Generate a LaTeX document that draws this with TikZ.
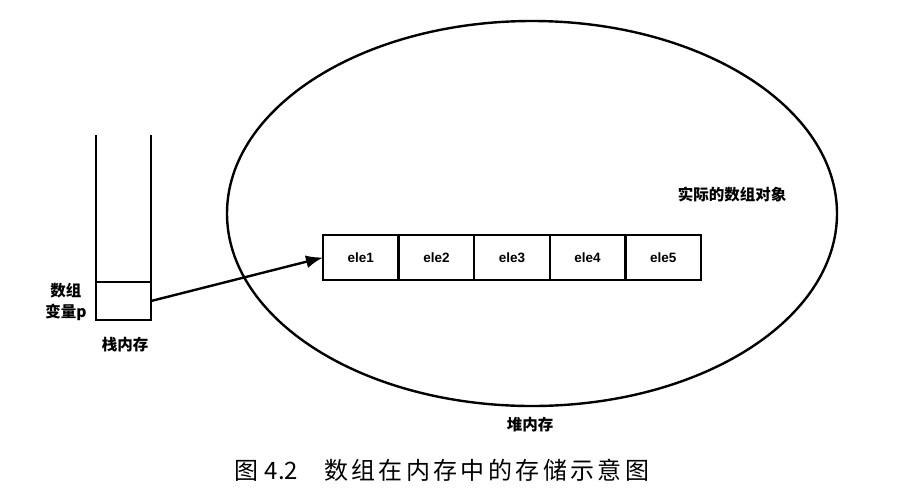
\documentclass[tikz,border=0pt]{standalone}
\usepackage{fontspec}
\setmainfont{Noto Sans CJK SC}
\newfontfamily\elefont{Liberation Sans}
\usetikzlibrary{positioning,shapes.geometric,arrows.meta}

\begin{document}
\begin{tikzpicture}[x=1pt, y=-1pt, line width=2.4pt,
    every node/.style={font=\bfseries\fontsize{15.5}{21}\selectfont},
    cell/.style={draw, rectangle, minimum width=75.6pt, minimum height=45pt,
      inner sep=0pt, outer sep=0pt, font=\elefont\bfseries\fontsize{13.5}{16}\selectfont}]
  \useasboundingbox (0,0) rectangle (904,499);
  % heap: the big ellipse
  \node[draw, ellipse, minimum width=610pt, minimum height=385pt, inner sep=0pt] (heap) at (532,213.5) {};
  \node (heaplbl) at (530,425) {堆内存};
  \node (objlbl) at (732,195) {实际的数组对象};
  % the array cells
  \node[cell] (c1) at (360.8,257.5) {ele1};
  \foreach \i [count=\j from 1] in {2,...,5}
    \node[cell, right=0pt of c\j] (c\i) {ele\i};
  % stack with the variable p
  \node[draw, rectangle, minimum width=55pt, minimum height=38pt, inner sep=0pt, outer sep=0pt] (pvar) at (123.5,301) {};
  \draw (pvar.north west) -- +(0,-147);
  \draw (pvar.north east) -- +(0,-147);
  \node[align=center] (pvarlbl) at (66,302) {数组\\变量p};
  \node (stacklbl) at (125,345) {栈内存};
  \draw[-{Latex[length=17pt, width=13pt]}] (pvar.east) -- (c1.west);
  % caption
  \node[font=\fontsize{24}{28}\selectfont] (caption) at (442,470)
    {图\hspace{6pt}4.2\hspace{26pt}{\addfontfeature{LetterSpace=14}数组在内存中的存储示意图}};
\end{tikzpicture}
\end{document}
